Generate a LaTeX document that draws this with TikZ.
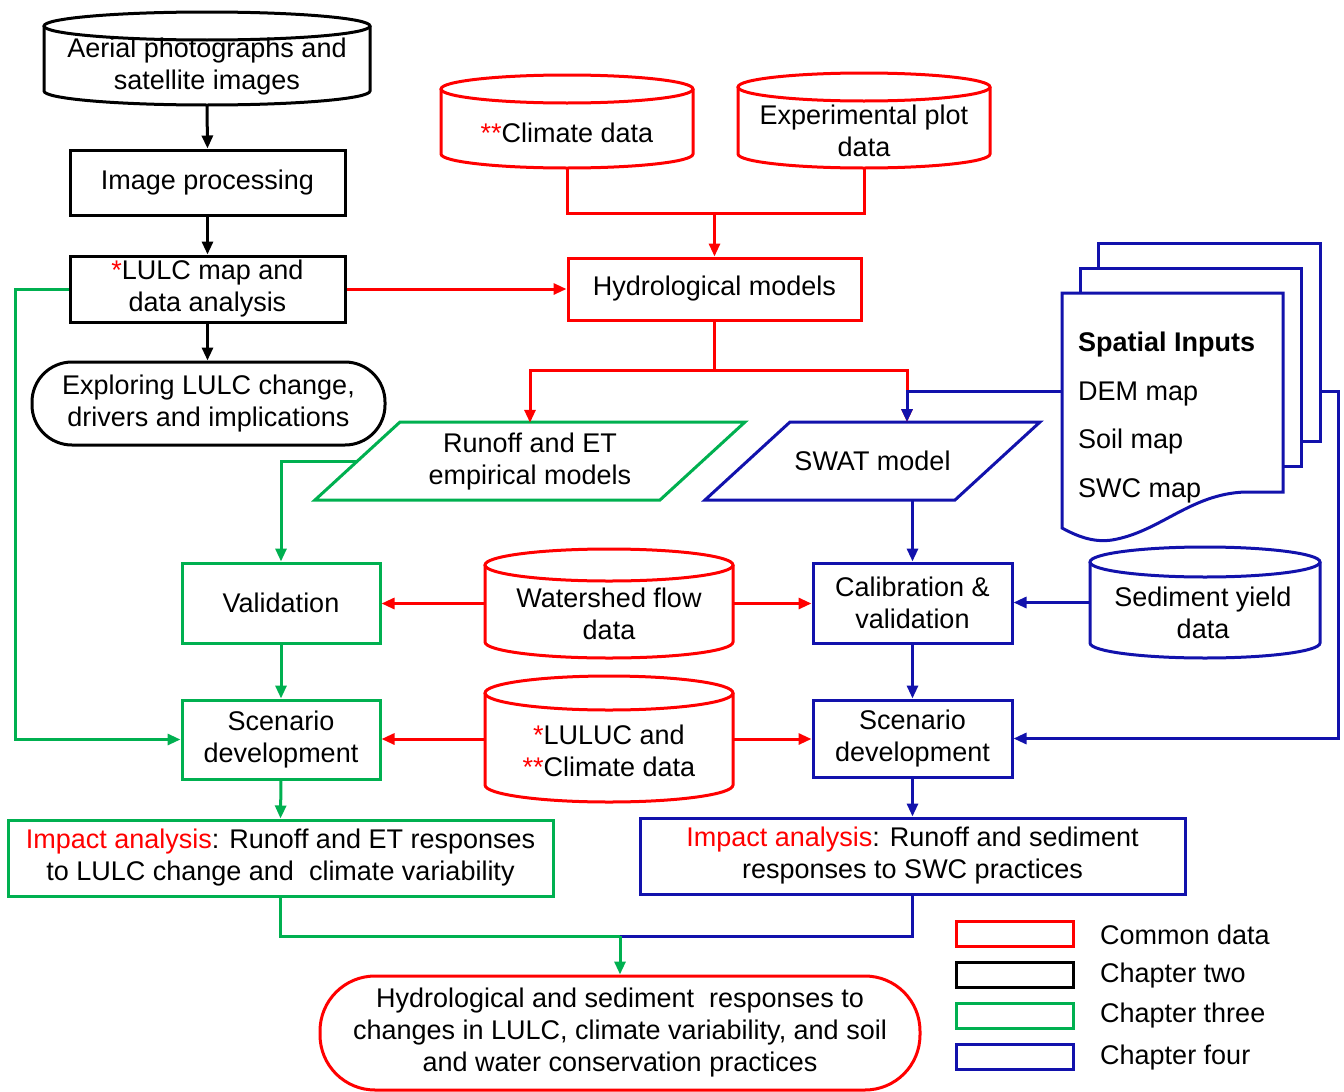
\documentclass[tikz,border=0pt]{standalone}
\usepackage{fontspec}
\setmainfont{Liberation Sans}
\usetikzlibrary{arrows.meta,calc}
\definecolor{cred}{RGB}{255,0,0}
\definecolor{cgreen}{RGB}{0,176,80}
\definecolor{cblue}{RGB}{18,18,172}
\tikzset{
  box/.style={draw, line width=3pt, rectangle, inner sep=0pt, align=center},
  cylline/.style={line width=3pt},
  ln/.style={line width=3pt},
  arr/.style={line width=3pt, -{Triangle[length=13pt,width=11pt]}},
  legbox/.style={draw, line width=3pt, minimum width=117, minimum height=25, inner sep=0pt},
  legtext/.style={anchor=west, inner sep=0pt},
  txt/.style={inner sep=0pt, align=center},
}
\newcommand{\cylshape}[7]{% name, colour, xl, xr, top, bottom, ry
  \pgfmathsetmacro{\cylX}{(#3+#4)/2}
  \pgfmathsetmacro{\cylW}{#4-#3}
  \pgfmathsetmacro{\cylR}{(#4-#3)/2}
  \pgfmathsetmacro{\cylY}{(#5+#6)/2}
  \pgfmathsetmacro{\cylH}{#6-#5}
  \pgfmathsetmacro{\cylT}{#5+#7}
  \pgfmathsetmacro{\cylB}{#6-#7}
  \node[inner sep=0pt, minimum width=\cylW, minimum height=\cylH] (#1) at (\cylX,\cylY) {};
  \draw[cylline,#2] (\cylX,\cylT) ellipse[x radius=\cylR, y radius=#7];
  \draw[cylline,#2] (#3,\cylT) -- (#3,\cylB) arc[start angle=180,end angle=0,x radius=\cylR,y radius=#7] -- (#4,\cylT);
}
\begin{document}
\begin{tikzpicture}[x=1pt,y=-1pt,font=\fontsize{27}{32}\selectfont]
\useasboundingbox (0,0) rectangle (1344,1092);

% ---------- chapter two (black) ----------
\cylshape{aerial}{black}{44}{370}{12}{105}{14}
\node[txt] (aerialT) at (207,67) {Aerial photographs and\\satellite images};
\node[box, draw=black, minimum width=275, minimum height=65] (imgp) at (207.5,182.5) {Image processing};
\node[box, draw=black, minimum width=275, minimum height=66] (lulc) at (207.5,289) {\textcolor{cred}{*}LULC map and\\data analysis};
\node[box, draw=black, rounded corners=40, minimum width=353, minimum height=83] (explore) at (208.5,403.5) {Exploring LULC change,\\drivers and implications};

\draw[arr,black] (aerial.south) -- (imgp.north);
\draw[arr,black] (imgp.south) -- (lulc.north);
\draw[arr,black] (lulc.south) -- (lulc.south |- explore.north);

% ---------- common data (red) ----------
\cylshape{clim}{cred}{441}{693}{75}{168}{14}
\node[txt] (climT) at (567,133) {\textcolor{cred}{**}Climate data};
\cylshape{expt}{cred}{738}{990}{73}{168}{14}
\node[txt] (exptT) at (864,131) {Experimental plot\\data};
\node[box, draw=cred, minimum width=293, minimum height=62] (hydro) at (714.5,289) {Hydrological models};

\coordinate (jt) at (714.5,213);
\draw[ln,cred] (clim.south) |- (jt) -| (expt.south);
\draw[arr,cred] (jt) -- (hydro.north);
\draw[arr,cred] (lulc.east) -- (hydro.west);

% ---------- models ----------
\draw[line width=3pt,cgreen] (400,422) -- (745,422) -- (660,500) -- (315,500) -- cycle;
\node[txt, minimum height=78] (runoff) at (530,462) {Runoff and ET\\empirical models};
\coordinate (runoffW) at (357.5,461);
\draw[line width=3pt,cblue] (790,422) -- (1040,422) -- (955,500) -- (705,500) -- cycle;
\node[txt, minimum height=78] (swat) at (872.5,461) {SWAT model};
\coordinate (swatIn) at (907,422);
\coordinate (jb) at (907,391);

\coordinate (jh) at (714.5,370);
\draw[ln,cred] (hydro.south) -- (jh);
\draw[arr,cred] (jh) -| (runoff.north);
\draw[arr,cred] (jh) -| (swatIn);

% ---------- spatial inputs (document stack) ----------
\draw[line width=3pt,cblue,fill=white] (1098,243) rectangle (1320,441);
\draw[line width=3pt,cblue,fill=white] (1080,268) rectangle (1301,466);
\draw[line width=3pt,cblue,fill=white] (1062,293) -- (1283,293) -- (1283,492) -- (1245,492)
  .. controls (1190,494) and (1160,532) .. (1112,540)
  .. controls (1092,543) and (1075,535) .. (1062,528) -- cycle;
\node[legtext] (sp1) at (1078,345) {\textbf{Spatial Inputs}};
\node[legtext] (sp2) at (1078,394) {DEM map};
\node[legtext] (sp3) at (1078,442) {Soil map};
\node[legtext] (sp4) at (1078,491) {SWC map};
\coordinate (docL) at (1062,391);
\coordinate (docR) at (1320,391);

\draw[arr,cblue] (docL) -- (jb) -- (swatIn);

% ---------- validation row ----------
\node[box, draw=cgreen, minimum width=198, minimum height=80] (valid) at (281,603) {Validation};
\cylshape{wflow}{cred}{485}{733}{549}{658}{16}
\node[txt] (wflowT) at (609,614) {Watershed flow\\data};
\node[box, draw=cblue, minimum width=199, minimum height=80] (calib) at (912.5,603) {Calibration \&\\validation};
\cylshape{sed}{cblue}{1090}{1320}{547}{658}{15}
\node[txt] (sedT) at (1203,613) {Sediment yield\\data};

\draw[arr,cgreen] (runoffW) -| (valid.north);
\draw[arr,cblue] (calib.north |- swat.south) -- (calib.north);
\draw[arr,cred] (wflow.west) -- (valid.east |- wflow.west);
\draw[arr,cred] (wflow.east) -- (calib.west |- wflow.east);
\draw[arr,cblue] (sed.west) -- (calib.east |- sed.west);

% ---------- scenario row ----------
\node[box, draw=cgreen, minimum width=198, minimum height=79] (scenG) at (281,739.5) {Scenario\\development};
\cylshape{luluc}{cred}{485}{733}{676}{802}{17}
\node[txt] (lulucT) at (609,751) {\textcolor{cred}{*}LULUC and\\\textcolor{cred}{**}Climate data};
\node[box, draw=cblue, minimum width=199, minimum height=77] (scenB) at (912.5,738.5) {Scenario\\development};

\draw[arr,cgreen] (valid.south) -- (scenG.north);
\draw[arr,cblue] (calib.south) -- (scenB.north);
\draw[arr,cred] (luluc.west) -- (scenG.east |- luluc.west);
\draw[arr,cred] (luluc.east) -- (scenB.west |- luluc.east);
\draw[arr,cgreen] (lulc.west) -- ++(-53,0) |- (scenG.west);
\draw[arr,cblue] (docR) -- ++(18,0) |- (scenB.east);

% ---------- impact analysis ----------
\node[box, draw=cgreen, minimum width=545, minimum height=76] (impG) at (280.5,858) {\textcolor{cred}{Impact analysis}: Runoff and ET responses\\to LULC change and\ \ climate variability};
\node[box, draw=cblue, minimum width=545, minimum height=76] (impB) at (912.5,856) {\textcolor{cred}{Impact analysis}: Runoff and sediment\\responses to SWC practices};

\draw[arr,cgreen] (scenG.south) -- (impG.north);
\draw[arr,cblue] (scenB.south) -- (impB.north);

% ---------- final ----------
\node[box, draw=cred, rounded corners=55, minimum width=600, minimum height=114] (final) at (620,1033) {Hydrological and sediment\ \ responses to\\changes in LULC, climate variability, and soil\\and water conservation practices};
\coordinate (jf) at (620,936);
\draw[ln,cgreen] (impG.south) |- (jf);
\draw[ln,cblue] (impB.south) |- (jf);
\draw[arr,cgreen] (jf) -- (final.north);

% ---------- legend ----------
\node[legbox, draw=cred] (leg1) at (1014.5,933.5) {};
\node[legbox, draw=black] (leg2) at (1014.5,975) {};
\node[legbox, draw=cgreen] (leg3) at (1014.5,1015.5) {};
\node[legbox, draw=cblue] (leg4) at (1014.5,1056.5) {};
\node[legtext] (legt1) at (1100,935) {Common data};
\node[legtext] (legt2) at (1100,976) {Chapter two};
\node[legtext] (legt3) at (1100,1016) {Chapter three};
\node[legtext] (legt4) at (1100,1058) {Chapter four};
\end{tikzpicture}
\end{document}
